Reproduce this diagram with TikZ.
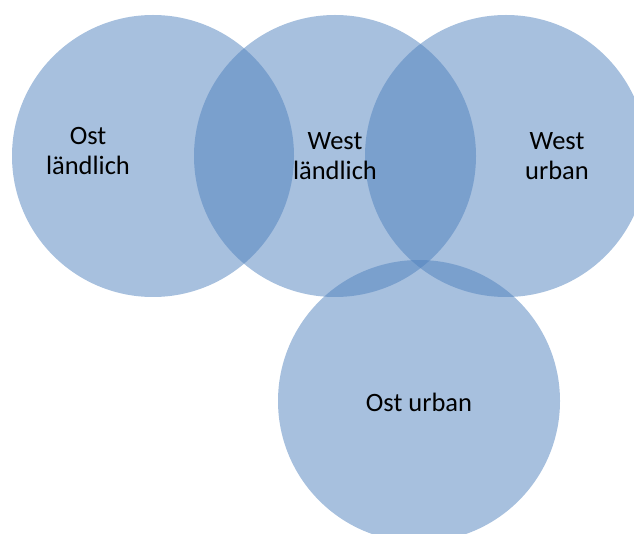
\documentclass[tikz,border=0pt]{standalone}
\usepackage{fontspec}
\setmainfont{Carlito}
\usetikzlibrary{positioning}
\definecolor{accent}{RGB}{79,129,189}

\begin{document}
\begin{tikzpicture}[x=1pt, y=-1pt, font=\fontsize{26.5}{29.5}\selectfont,
circ/.style={circle, fill=accent, fill opacity=0.5, minimum size=282pt, inner sep=0pt},
txt/.style={align=center, text=black}]
\useasboundingbox (0,0) rectangle (634,534);
\clip (0,0) rectangle (634,534);
\node[circ] (ol) at (153,156) {};
\node[circ] (wl) at (335,156) {};
\node[circ] (wu) at (506,156) {};
\node[circ] (ou) at (419,401) {};
\node[txt] (olt) at (88,151) {Ost\\ländlich};
\node[txt] (wlt) at (335,156) {West\\ländlich};
\node[txt] (wut) at (557,156) {West\\urban};
\node[txt] (out) at (419,402) {Ost urban};
\end{tikzpicture}
\end{document}
